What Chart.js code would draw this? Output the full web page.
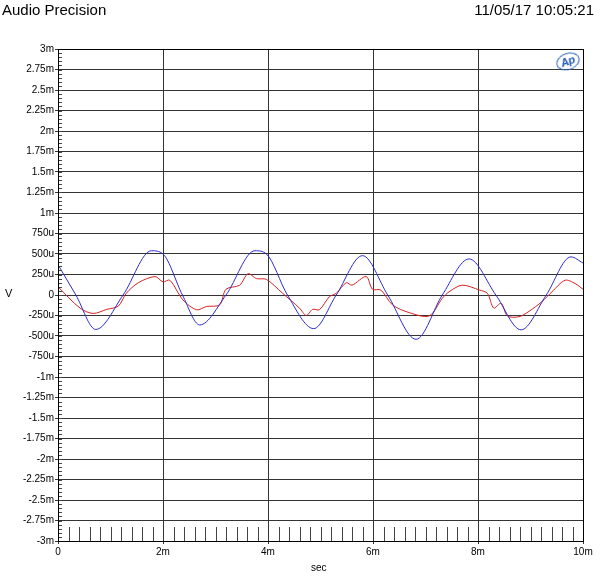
<!DOCTYPE html>
<html>
<head>
<meta charset="utf-8">
<script src="https://cdn.jsdelivr.net/npm/chart.js@4/dist/chart.umd.min.js"></script>
<style>
  body { margin: 0; background: #fff; font-family: "Liberation Sans", Arial, sans-serif; }
  #wrap { position: relative; width: 600px; height: 583px; }
  canvas { position: absolute; left: 0; top: 0; }
  .lbl { position: absolute; color: #000; }
  #logo { position: absolute; left: 556px; top: 53px; width: 22px; height: 15px; border: 1px solid #3a6fc0;
          border-radius: 50%; color: #1d56b8; font: italic bold 11px "Liberation Sans", Arial, sans-serif;
          text-align: center; line-height: 15px; transform: rotate(-20deg); }
</style>
</head>
<body>
<div id="wrap">
  <canvas id="grafico" width="600" height="583"></canvas>
  <div class="lbl" style="left:2px;top:1px;font-size:15px;">Audio Precision</div>
  <div class="lbl" style="right:6px;top:1px;font-size:15px;">11/05/17 10:05:21</div>
  <div class="lbl" style="left:5px;top:287px;font-size:11px;">V</div>
  <div class="lbl" style="left:311px;top:562px;font-size:10px;">sec</div>
  <div id="logo">Ap</div>
</div>
<script>
// tiempos en ms, valores en microvoltios
const tiemposAzul = [0, 0.34, 0.72, 1.24, 1.78, 2.0, 2.37, 2.7, 3.2, 3.75, 3.97, 4.37, 4.87, 5.3, 5.8, 6.28, 6.82, 7.32, 7.83, 8.34, 8.82, 9.3, 9.77, 10];
const valoresAzul = [370, 0, -420, 0, 540, 500, 0, -365, 0, 540, 500, 0, -410, 0, 480, 0, -540, 0, 440, 0, -425, 0, 465, 390];

const tiemposRojo = [0, 0.42, 0.67, 0.93, 1.15, 1.3, 1.53, 1.85, 2.0, 2.13, 2.38, 2.64, 2.83, 3.08, 3.2, 3.46, 3.62, 3.78, 3.97, 4.28, 4.6, 4.73, 4.85, 4.98, 5.17, 5.3, 5.49, 5.6, 5.87, 5.99, 6.15, 6.37, 6.69, 7.07, 7.32, 7.45, 7.7, 8.03, 8.18, 8.3, 8.44, 8.56, 8.78, 8.97, 9.22, 9.41, 9.66, 9.85, 10];
const valoresRojo = [100, -160, -225, -175, -135, 20, 150, 225, 160, 180, -60, -180, -140, -120, 70, 120, 260, 200, 190, 20, -160, -250, -175, -180, -20, 20, 150, 120, 225, 70, 60, -120, -215, -255, -40, 40, 120, 60, 20, -160, -100, -255, -265, -200, -80, 40, 180, 140, 70];

function puntos(t, v) {
  return t.map((x, i) => ({ x: x / 1000, y: v[i] / 1e6 }));
}

function etiquetaY(valor) {
  const us = Math.round(valor * 1e6);
  if (us === 0) return '0';
  if (Math.abs(us) >= 1000) return (us / 1000) + 'm';
  return us + 'u';
}

const marcasMenores = {
  id: 'marcasMenores',
  afterDatasetsDraw(chart) {
    const ctx = chart.ctx;
    const x = chart.scales.x, y = chart.scales.y;
    const area = chart.chartArea;
    ctx.save();
    ctx.strokeStyle = '#444';
    ctx.lineWidth = 1;
    ctx.beginPath();
    for (let i = -60; i <= 60; i++) {
      const py = Math.round(y.getPixelForValue(i * 0.00005)) + 0.5;
      ctx.moveTo(area.left, py);
      ctx.lineTo(area.left + 4, py);
    }
    for (let i = 1; i < 50; i++) {
      if (i % 10 === 0) continue;
      const px = Math.round(x.getPixelForValue(i * 0.0002)) + 0.5;
      ctx.moveTo(px, area.bottom);
      ctx.lineTo(px, area.bottom - 14);
    }
    ctx.stroke();
    ctx.strokeStyle = '#000';
    ctx.strokeRect(area.left + 0.5, area.top + 0.5, area.right - area.left, area.bottom - area.top);
    ctx.restore();
  }
};

new Chart(document.getElementById('grafico'), {
  type: 'line',
  data: {
    datasets: [
      { data: puntos(tiemposAzul, valoresAzul), borderColor: '#2a2ad0', borderWidth: 1, pointRadius: 0, tension: 0.4, cubicInterpolationMode: 'monotone' },
      { data: puntos(tiemposRojo, valoresRojo), borderColor: '#d42020', borderWidth: 1, pointRadius: 0, tension: 0.3 }
    ]
  },
  options: {
    responsive: false,
    animation: false,
    layout: { padding: { top: 49, right: 17, left: 0, bottom: 0 } },
    plugins: { legend: { display: false }, tooltip: { enabled: false } },
    scales: {
      x: {
        type: 'linear', min: 0, max: 0.01,
        afterFit: s => { s.height = 42; },
        grid: { color: '#333', lineWidth: 1, tickLength: 3 },
        border: { color: '#000' },
        ticks: {
          stepSize: 0.002, color: '#000', font: { size: 10, family: 'Liberation Sans' }, padding: 2,
          callback: v => { const ms = Math.round(v * 1000); return ms === 0 ? '0' : ms + 'm'; }
        }
      },
      y: {
        min: -0.003, max: 0.003,
        afterFit: s => { s.width = 58; },
        grid: { color: '#333', lineWidth: 1, tickLength: 3 },
        border: { color: '#000' },
        ticks: {
          stepSize: 0.00025, color: '#000', font: { size: 10, family: 'Liberation Sans' }, padding: 1,
          autoSkip: false, callback: etiquetaY
        }
      }
    }
  },
  plugins: [marcasMenores]
});
</script>
</body>
</html>
